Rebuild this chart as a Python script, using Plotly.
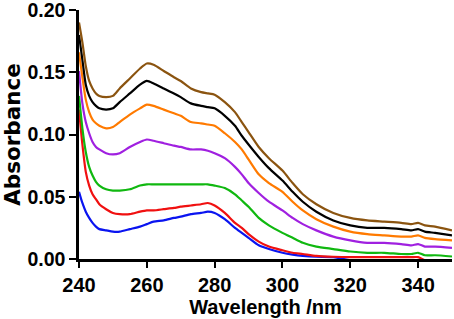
import plotly.graph_objects as go

wavelength = [240, 241, 242, 243, 244, 245, 246, 248, 250, 252, 255, 258, 260, 262, 265, 268, 270,
              273, 276, 278, 280, 283, 286, 288, 290, 293, 296, 300, 303, 306, 310, 315, 320, 325,
              330, 335, 338, 340, 342, 345, 350]

brown = [0.190, 0.174, 0.155, 0.143, 0.137, 0.133, 0.131, 0.130, 0.131, 0.137, 0.145, 0.153, 0.157,
         0.156, 0.151, 0.146, 0.143, 0.137, 0.134, 0.133, 0.132, 0.126, 0.118, 0.110, 0.102, 0.090,
         0.081, 0.071, 0.061, 0.052, 0.044, 0.037, 0.033, 0.031, 0.030, 0.029, 0.028, 0.029, 0.027,
         0.026, 0.023]
black = [0.180, 0.160, 0.140, 0.131, 0.126, 0.123, 0.121, 0.120, 0.121, 0.126, 0.133, 0.140, 0.143,
         0.141, 0.137, 0.133, 0.130, 0.125, 0.123, 0.122, 0.121, 0.115, 0.107, 0.099, 0.092, 0.082,
         0.073, 0.063, 0.054, 0.046, 0.038, 0.031, 0.027, 0.025, 0.025, 0.024, 0.023, 0.024, 0.022,
         0.021, 0.019]
orange = [0.166, 0.146, 0.128, 0.118, 0.112, 0.109, 0.107, 0.105, 0.106, 0.110, 0.116, 0.121, 0.124,
          0.123, 0.120, 0.117, 0.115, 0.110, 0.109, 0.108, 0.107, 0.101, 0.094, 0.088, 0.080, 0.068,
          0.061, 0.054, 0.046, 0.039, 0.032, 0.026, 0.022, 0.020, 0.019, 0.018, 0.018, 0.019, 0.017,
          0.016, 0.015]
purple = [0.151, 0.125, 0.110, 0.101, 0.094, 0.090, 0.088, 0.085, 0.084, 0.085, 0.090, 0.094, 0.096,
          0.095, 0.093, 0.091, 0.090, 0.088, 0.088, 0.087, 0.085, 0.081, 0.074, 0.068, 0.061, 0.053,
          0.046, 0.039, 0.033, 0.028, 0.023, 0.018, 0.015, 0.013, 0.013, 0.012, 0.011, 0.012, 0.010,
          0.010, 0.009]
green = [0.131, 0.105, 0.086, 0.074, 0.067, 0.062, 0.059, 0.056, 0.055, 0.055, 0.056, 0.059, 0.060,
         0.060, 0.060, 0.060, 0.060, 0.060, 0.060, 0.060, 0.059, 0.057, 0.052, 0.047, 0.042, 0.033,
         0.027, 0.021, 0.017, 0.013, 0.010, 0.008, 0.006, 0.005, 0.005, 0.004, 0.004, 0.005, 0.003,
         0.003, 0.002]
red = [0.120, 0.092, 0.070, 0.059, 0.052, 0.048, 0.044, 0.040, 0.037, 0.036, 0.036, 0.038, 0.039,
       0.039, 0.040, 0.041, 0.042, 0.043, 0.044, 0.045, 0.043, 0.037, 0.029, 0.025, 0.020, 0.014,
       0.010, 0.007, 0.005, 0.004, 0.0025, 0.0018, 0.0015, 0.0015, 0.0015, 0.0015, 0.0015, 0.0015,
       -0.001, -0.002, -0.002]
blue = [0.054, 0.045, 0.038, 0.033, 0.029, 0.026, 0.024, 0.023, 0.022, 0.022, 0.024, 0.026, 0.028,
        0.030, 0.031, 0.033, 0.034, 0.036, 0.037, 0.038, 0.037, 0.032, 0.025, 0.021, 0.017, 0.011,
        0.008, 0.005, 0.0035, 0.0025, 0.0018, 0.0015, -0.001, -0.002, -0.002, -0.002, -0.002, -0.002,
        -0.002, -0.002, -0.002]

x_ticks = [240, 260, 280, 300, 320, 340]
y_ticks = [0, 0.05, 0.10, 0.15, 0.20]

series = [
    ("blue", blue, "#0a14f0"),
    ("red", red, "#f01010"),
    ("green", green, "#10b810"),
    ("purple", purple, "#a020e0"),
    ("orange", orange, "#ff7a00"),
    ("black", black, "#000000"),
    ("brown", brown, "#8b5410"),
]

fig = go.Figure()
for name, vals, col in series:
    fig.add_trace(go.Scatter(x=wavelength, y=vals, mode="lines", name=name,
                             line=dict(color=col, width=2.2, shape="spline", smoothing=0.6),
                             showlegend=False))

ff = "Liberation Sans, Arial, sans-serif"
fig.update_layout(
    width=454, height=319,
    margin=dict(l=79, r=2, t=10, b=60),
    paper_bgcolor="white", plot_bgcolor="white",
    font=dict(family=ff, color="black"),
)
fig.update_xaxes(
    range=[240, 350], tickvals=x_ticks, automargin=False,
    showline=True, linecolor="black", linewidth=2.5, mirror=False,
    ticks="outside", ticklen=6, tickwidth=2, tickcolor="black",
    showgrid=False, zeroline=False, ticklabeloverflow="allow",
    tickfont=dict(size=20, weight="bold", family=ff),
    title=dict(text="Wavelength /nm", font=dict(size=20, weight="bold", family=ff), standoff=2),
)
fig.update_yaxes(
    range=[0, 0.2], tickvals=y_ticks, tickformat=".2f", automargin=False,
    showline=True, linecolor="black", linewidth=2.5,
    ticks="outside", ticklen=7, tickwidth=2, tickcolor="black",
    showgrid=False, zeroline=False, ticklabeloverflow="allow",
    tickfont=dict(size=19.5, weight="bold", family=ff),
    title=dict(text="Absorbance", font=dict(size=21.5, weight="bold", family="DejaVu Sans, sans-serif"),
               standoff=9),
)

fig.write_html("out.html", config={"displayModeBar": False},
               post_script="document.body.style.margin='0';document.body.style.overflow='hidden';")
